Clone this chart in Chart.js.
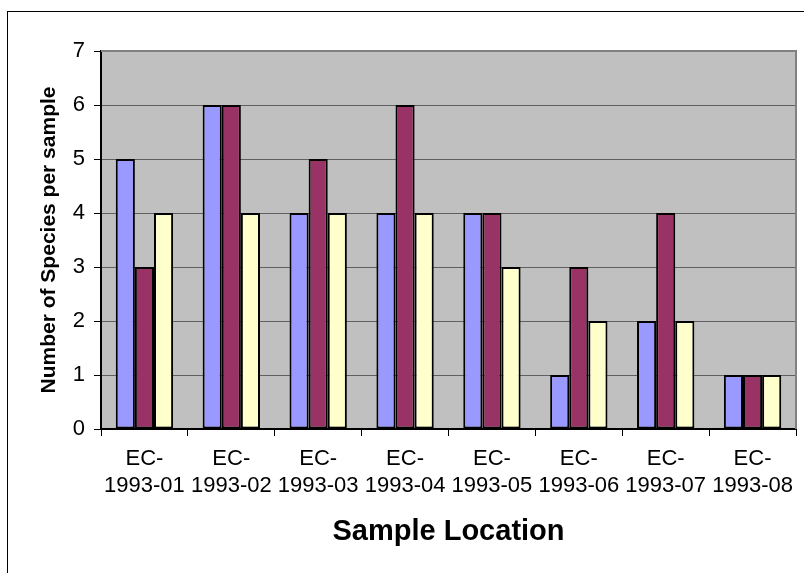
<!DOCTYPE html>
<html>
<head>
<meta charset="utf-8">
<script src="https://cdn.jsdelivr.net/npm/chart.js@4"></script>
<style>
  html, body { margin: 0; padding: 0; background: #fff; }
  canvas { display: block; }
</style>
</head>
<body>
<canvas id="myChart-bar" width="804" height="573"></canvas>
<script>
const ctx = document.getElementById('myChart-bar');

// sample locations, split over two lines like the original
const LOCATIONS = [
    ['EC-', '1993-01'],
    ['EC-', '1993-02'],
    ['EC-', '1993-03'],
    ['EC-', '1993-04'],
    ['EC-', '1993-05'],
    ['EC-', '1993-06'],
    ['EC-', '1993-07'],
    ['EC-', '1993-08']
];
const SERIES_1 = [5, 6, 4, 4, 4, 1, 2, 1];
const SERIES_2 = [3, 6, 5, 6, 4, 3, 4, 1];
const SERIES_3 = [4, 4, 4, 4, 3, 2, 2, 1];
const Y_TICKS = [0, 1, 2, 3, 4, 5, 6, 7];

const FONT = "'Liberation Sans', Arial, sans-serif";

// white page, outer frame, grey plot area
const background = {
    id: 'background',
    beforeDraw(chart) {
        const c = chart.ctx;
        const a = chart.chartArea;
        c.save();
        c.fillStyle = '#ffffff';
        c.fillRect(0, 0, chart.width, chart.height);
        c.strokeStyle = '#000000';
        c.lineWidth = 1;
        c.strokeRect(7.5, 11.5, 1000, 1000);
        c.fillStyle = '#c0c0c0';
        c.fillRect(a.left, a.top, a.right - a.left, a.bottom - a.top);
        c.restore();
    },
    afterDatasetsDraw(chart) {
        const c = chart.ctx;
        const a = chart.chartArea;
        c.save();
        c.strokeStyle = '#808080';
        c.lineWidth = 2;
        c.beginPath();
        c.moveTo(a.left, a.top);
        c.lineTo(a.right, a.top);
        c.lineTo(a.right, a.bottom);
        c.stroke();
        c.restore();
    }
};

const barStyle = {
    borderColor: '#000000',
    borderWidth: 2,
    borderSkipped: false,
    categoryPercentage: 0.66,
    barPercentage: 1.0
};

const data = {
    labels: LOCATIONS,
    datasets: [
        Object.assign({ label: 'Series 1', data: SERIES_1, backgroundColor: '#9999ff' }, barStyle),
        Object.assign({ label: 'Series 2', data: SERIES_2, backgroundColor: '#993366' }, barStyle),
        Object.assign({ label: 'Series 3', data: SERIES_3, backgroundColor: '#ffffcc' }, barStyle)
    ]
};

const config = {
    type: 'bar',
    data: data,
    plugins: [background],
    options: {
        responsive: false,
        devicePixelRatio: 1,
        animation: false,
        layout: {
            padding: { top: 51, right: 8, left: 0, bottom: 0 }
        },
        plugins: {
            legend: { display: false },
            tooltip: { enabled: false }
        },
        scales: {
            x: {
                afterFit(scale) { scale.height = 144; },
                grid: {
                    offset: true,
                    drawOnChartArea: false,
                    tickLength: 7,
                    tickColor: '#000000',
                    lineWidth: 1
                },
                border: { color: '#000000', width: 2 },
                ticks: {
                    color: '#000000',
                    padding: 9,
                    maxRotation: 0,
                    autoSkip: false,
                    font: { family: FONT, size: 22, lineHeight: 1.25 }
                },
                title: {
                    display: true,
                    text: 'Sample Location',
                    color: '#000000',
                    font: { family: FONT, size: 29, weight: 'bold' },
                    padding: { top: 0, bottom: 24 }
                }
            },
            y: {
                min: 0,
                max: 7,
                afterFit(scale) { scale.width = 101; },
                afterBuildTicks(scale) {
                    scale.ticks = Y_TICKS.map(v => ({ value: v }));
                },
                grid: {
                    color: '#606060',
                    lineWidth: 1,
                    tickLength: 7,
                    tickColor: '#000000'
                },
                border: { color: '#000000', width: 2 },
                ticks: {
                    color: '#000000',
                    padding: 9,
                    font: { family: FONT, size: 22 }
                },
                title: {
                    display: true,
                    text: 'Number of Species per sample',
                    color: '#000000',
                    font: { family: FONT, size: 21, weight: 'bold' },
                    padding: { top: 37, bottom: 0 }
                }
            }
        }
    }
};
const myChart = new Chart(ctx, config);
</script>
</body>
</html>
